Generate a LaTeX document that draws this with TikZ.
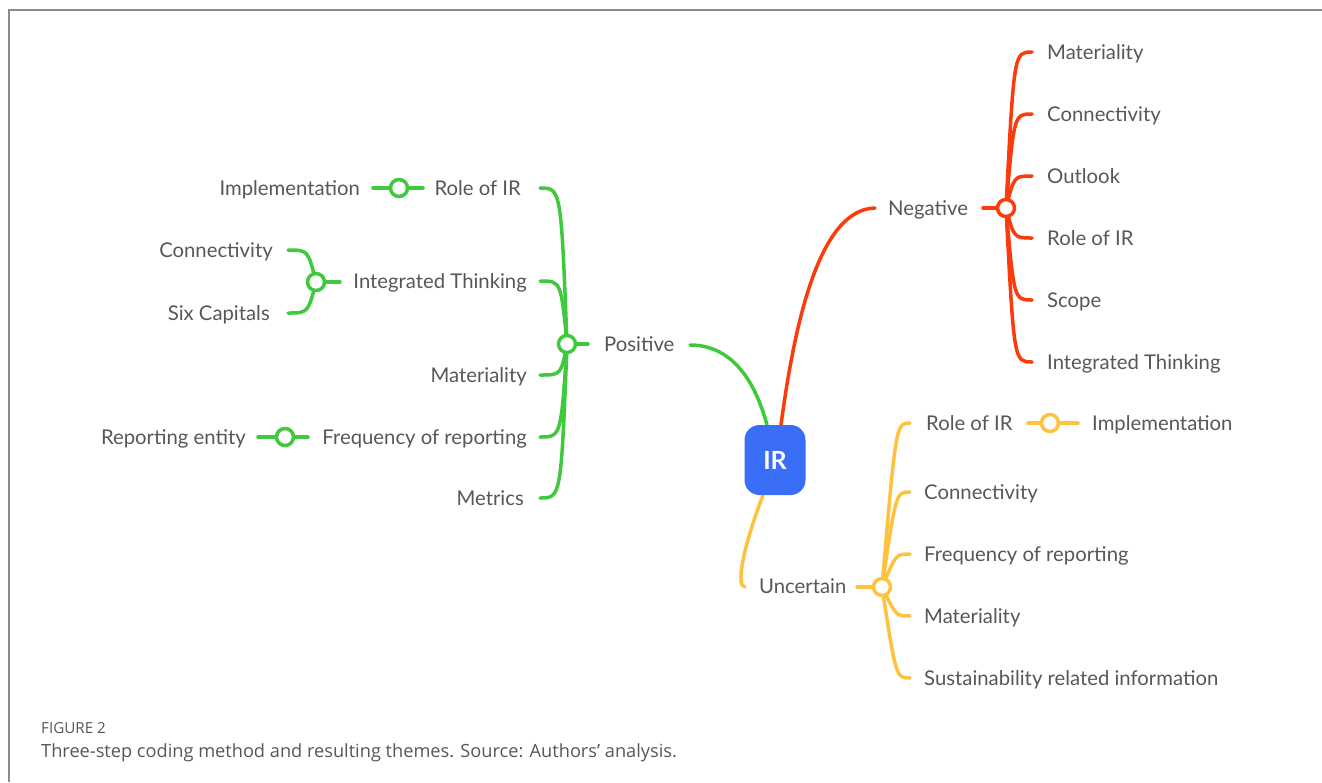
\documentclass[tikz,border=0pt]{standalone}
\usepackage{fontspec}
\setmainfont{Lato}
\newfontfamily\capfont{Open Sans}
\usetikzlibrary{calc,backgrounds}
\definecolor{cgreen}{HTML}{3FC93C}
\definecolor{cred}{HTML}{FB3B0C}
\definecolor{cyellow}{HTML}{FFC23E}
\definecolor{cblue}{HTML}{3B6EF6}
\definecolor{tgray}{HTML}{575757}
\definecolor{fgray}{HTML}{8A8A8A}
\tikzset{
  lab/.style={font=\fontsize{20.3}{24}\selectfont, text=tgray, inner sep=0pt, text height=14.5pt, text depth=0pt},
  hub/.style={circle, draw, line width=3.5pt, fill=white, minimum size=17pt, inner sep=0pt},
  wire/.style={line width=3.5pt, line cap=round},
  gw/.style={wire, draw=cgreen},
  rw/.style={wire, draw=cred},
  yw/.style={wire, draw=cyellow},
}
\begin{document}
\begin{tikzpicture}[x=1pt,y=-1pt]
\useasboundingbox (0,0) rectangle (1322,782);
% frame
\draw[fgray, line width=2pt] (9,782) -- (9,10) -- (1322,10);

% central node
\node[fill=cblue, rounded corners=15pt, minimum width=61pt, minimum height=70pt, inner sep=0pt,
      text=white, font=\fontsize{25}{28}\selectfont\bfseries] (ir) at (775,460) {IR};

% ---------- Positive ----------
\node[lab, anchor=west] (pos) at (604,344) {Positive};
\coordinate (posE) at (690,345);
\coordinate (posS) at (588,344);
\node[hub, draw=cgreen] (gh) at (567,344) {};

\node[lab, anchor=east] (g1) at (521,188) {Role of IR};
\node[lab, anchor=east] (g2) at (527,281) {Integrated Thinking};
\node[lab, anchor=east] (g3) at (527,375) {Materiality};
\node[lab, anchor=east] (g4) at (527,437) {Frequency of reporting};
\node[lab, anchor=east] (g5) at (524,498) {Metrics};
\coordinate (g1e) at (540,188);
\coordinate (g2e) at (540,281);
\coordinate (g3e) at (540,375);
\coordinate (g4e) at (540,437);
\coordinate (g5e) at (540,498);

% Role of IR -> Implementation
\node[hub, draw=cgreen] (gh1) at (399,188) {};
\coordinate (gh1a) at (423,188);
\coordinate (gh1b) at (373,188);
\node[lab, anchor=east] (g1a) at (360,188) {Implementation};

% Integrated Thinking -> Connectivity / Six Capitals
\node[hub, draw=cgreen] (gh2) at (316,282) {};
\coordinate (gh2a) at (340,282);
\node[lab, anchor=east] (g2a) at (273,250) {Connectivity};
\node[lab, anchor=east] (g2b) at (270,313) {Six Capitals};
\coordinate (g2ae) at (288,250);
\coordinate (g2be) at (288,313);

% Frequency -> Reporting entity
\node[hub, draw=cgreen] (gh4) at (285,437) {};
\coordinate (gh4a) at (308,437);
\coordinate (gh4b) at (258,437);
\node[lab, anchor=east] (g4a) at (246,437) {Reporting entity};

% ---------- Negative ----------
\node[lab, anchor=west] (neg) at (888,208) {Negative};
\coordinate (negE) at (875,208);
\coordinate (negS) at (983,208);
\node[hub, draw=cred] (rh) at (1006,208) {};
\node[lab, anchor=west] (r1) at (1047,52) {Materiality};
\node[lab, anchor=west] (r2) at (1047,114) {Connectivity};
\node[lab, anchor=west] (r3) at (1047,176) {Outlook};
\node[lab, anchor=west] (r4) at (1047,238) {Role of IR};
\node[lab, anchor=west] (r5) at (1047,300) {Scope};
\node[lab, anchor=west] (r6) at (1047,362) {Integrated Thinking};
\foreach \i/\yy in {1/52,2/114,3/176,4/238,5/300,6/362}{\coordinate (r\i e) at (1032,\yy);}

% ---------- Uncertain ----------
\node[lab, anchor=west] (unc) at (759,586) {Uncertain};
\coordinate (uncE) at (745,587);
\coordinate (uncS) at (857,587);
\node[hub, draw=cyellow] (yh) at (882,587) {};
\node[lab, anchor=west] (y1) at (926,423) {Role of IR};
\node[lab, anchor=west] (y2) at (924,492) {Connectivity};
\node[lab, anchor=west] (y3) at (924,554) {Frequency of reporting};
\node[lab, anchor=west] (y4) at (924,616) {Materiality};
\node[lab, anchor=west] (y5) at (924,678) {Sustainability related information};
\foreach \i/\yy in {1/423,2/492,3/554,4/616,5/678}{\coordinate (y\i e) at (910,\yy);}
\node[hub, draw=cyellow] (yh1) at (1050,423) {};
\coordinate (yh1a) at (1028,423);
\coordinate (yh1b) at (1078,423);
\node[lab, anchor=west] (y1a) at (1092,423) {Implementation};

% ---------- connectors (behind) ----------
\begin{scope}[on background layer]
  % main branches
  \draw[gw] ([xshift=-8pt]ir.north) .. controls (752,370) and (725,345) .. (posE);
  \draw[rw] ([xshift=6pt]ir.north) .. controls (795,320) and (820,209) .. (negE);
  \draw[yw] ([xshift=-12pt]ir.south) .. controls (742,550) and (736,587) .. (uncE);

  % stubs
  \draw[gw] (posS) -- (gh.center);
  \draw[rw] (negS) -- (rh.center);
  \draw[yw] (uncS) -- (yh.center);

  % green fan
  \foreach \i in {1,...,5}{
    \draw[gw] (gh.center) .. controls ($(gh.center|-g\i e)+(-6,0)$) and ($(gh.center|-g\i e)+(-6,0)$) .. (g\i e);
  }
  \draw[gw] (gh1a) -- (gh1.center) -- (gh1b);
  \draw[gw] (gh2a) -- (gh2.center);
  \foreach \t in {g2ae,g2be}{
    \draw[gw] (gh2.center) .. controls ($(gh2.center|-\t)+(-8,0)$) and ($(gh2.center|-\t)+(-8,0)$) .. (\t);
  }
  \draw[gw] (gh4a) -- (gh4.center) -- (gh4b);

  % red fan
  \foreach \i in {1,...,6}{
    \draw[rw] (rh.center) .. controls ($(rh.center|-r\i e)+(8,0)$) and ($(rh.center|-r\i e)+(8,0)$) .. (r\i e);
  }

  % yellow fan
  \foreach \i in {1,...,5}{
    \draw[yw] (yh.center) .. controls ($(yh.center|-y\i e)+(14,0)$) and ($(yh.center|-y\i e)+(14,0)$) .. (y\i e);
  }
  \draw[yw] (yh1a) -- (yh1.center) -- (yh1b);
\end{scope}

% caption
\node[anchor=base west, inner sep=0pt, text=tgray, font=\capfont\fontsize{15.2}{18}\selectfont] (figlab) at (41,733) {FIGURE 2};
\node[anchor=base west, inner sep=0pt, text=tgray, font=\capfont\fontsize{18.2}{22}\selectfont] (cap) at (41,757) {Three-step coding method and resulting themes. Source: Authors’ analysis.};
\end{tikzpicture}
\end{document}
